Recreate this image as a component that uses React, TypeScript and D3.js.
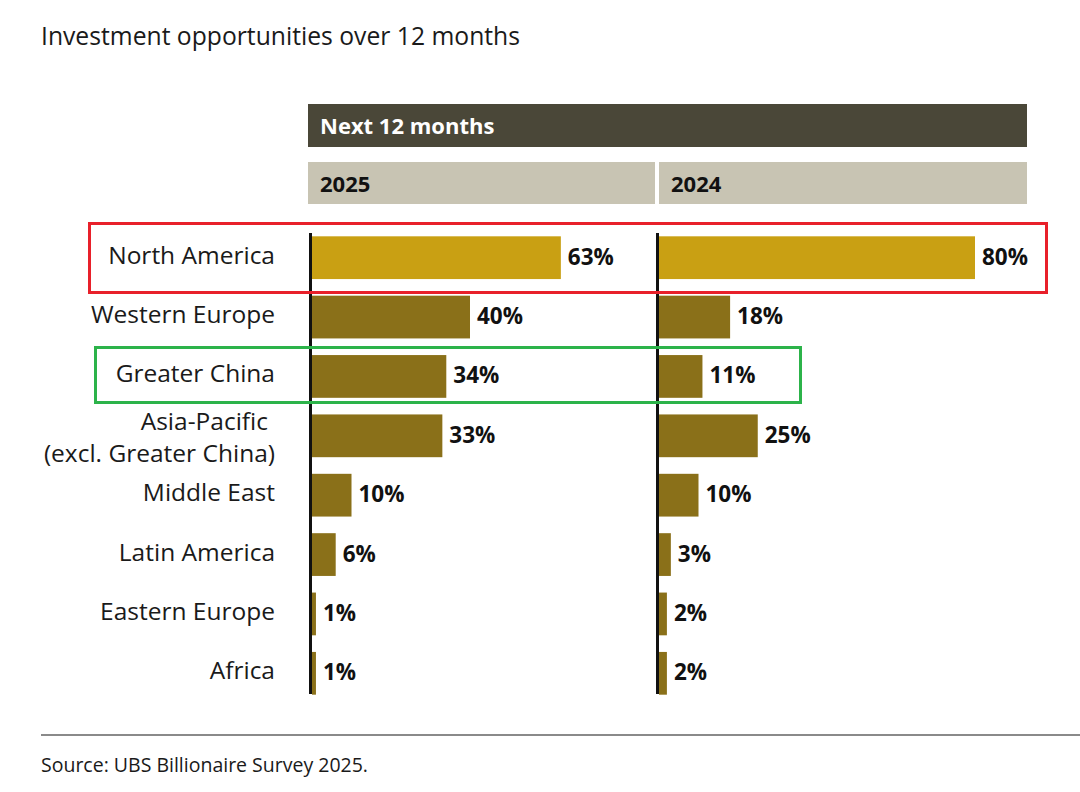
import * as d3 from 'd3';

const regions = [
  'North America',
  'Western Europe',
  'Greater China',
  'Asia-Pacific (excl. Greater China)',
  'Middle East',
  'Latin America',
  'Eastern Europe',
  'Africa',
];
const values2025 = [63, 40, 34, 33, 10, 6, 1, 1];
const values2024 = [80, 18, 11, 25, 10, 3, 2, 2];
const panelYears = ['2025', '2024'];

const W = 1080;
const H = 792;
const FONT = '"Open Sans", "Noto Sans", sans-serif';
const NARROW = '"Liberation Sans Narrow", "Open Sans", sans-serif';
const GOLD = '#c9a013';
const OLIVE = '#8a7019';

export default function App() {
  const y = d3
    .scaleBand<string>()
    .domain(regions)
    .range([228, 703])
    .paddingInner(0.28)
    .paddingOuter(0.14);
  const x = d3.scaleLinear().domain([0, 100]).range([0, 395]);

  const panels = [
    { year: panelYears[0], x0: 312, values: values2025, box: [308, 655] },
    { year: panelYears[1], x0: 659, values: values2024, box: [659, 1027] },
  ];

  return (
    <svg width={W} height={H} style={{ position: 'absolute', left: 0, top: 0, background: '#fff' }}>
      <rect width={W} height={H} fill="#fff" />
      <text x={41} y={45} fontFamily={FONT} fontSize={24.7} fill="#1a1a1a">
        Investment opportunities over 12 months
      </text>

      {/* header band */}
      <rect x={308} y={104} width={719} height={43} fill="#4a4738" />
      <text x={320} y={134} fontFamily={NARROW} fontWeight="bold" fontSize={22} fill="#fff">
        Next 12 months
      </text>
      {panels.map((p) => (
        <g key={p.year}>
          <rect x={p.box[0]} y={162} width={p.box[1] - p.box[0]} height={42} fill="#c8c4b3" />
          <text x={p.box[0] + 12} y={192} fontFamily={NARROW} fontWeight="bold" fontSize={22} fill="#111">
            {p.year}
          </text>
        </g>
      ))}

      {/* row labels */}
      {regions.map((r) => {
        const cy = (y(r) ?? 0) + y.bandwidth() / 2;
        if (r.startsWith('Asia-Pacific')) {
          return (
            <g key={r} fontFamily={FONT} fontSize={24.5} fill="#1a1a1a" textAnchor="end">
              <text x={268} y={cy - 6}>Asia-Pacific</text>
              <text x={275} y={cy + 26}>(excl. Greater China)</text>
            </g>
          );
        }
        return (
          <text key={r} x={275} y={cy + 6} fontFamily={FONT} fontSize={24.5} fill="#1a1a1a" textAnchor="end">
            {r}
          </text>
        );
      })}

      {/* bars */}
      {panels.map((p) => (
        <g key={p.year} transform={`translate(${p.x0},0)`}>
          {regions.map((r, i) => {
            const v = p.values[i];
            const top = y(r) ?? 0;
            return (
              <g key={r}>
                <rect x={0} y={top} width={x(v)} height={y.bandwidth()} fill={i === 0 ? GOLD : OLIVE} />
                <text
                  x={x(v) + 7}
                  y={top + y.bandwidth() / 2 + 7}
                  fontFamily={FONT}
                  fontWeight="bold"
                  fontSize={22.5}
                  fill="#111"
                >
                  {v}%
                </text>
              </g>
            );
          })}
          <line x1={-1.5} x2={-1.5} y1={233} y2={694} stroke="#111" strokeWidth={3} />
        </g>
      ))}

      {/* highlight frames */}
      <rect x={89.5} y={223.5} width={957} height={69} fill="none" stroke="#e8202a" strokeWidth={3} />
      <rect x={95.5} y={347.5} width={705} height={55} fill="none" stroke="#2cb34a" strokeWidth={3} />

      {/* footer */}
      <line x1={41} x2={W} y1={735} y2={735} stroke="#8a8a8a" strokeWidth={2} />
      <text x={41} y={772} fontFamily={NARROW} fontSize={19.5} fill="#1a1a1a">
        Source: UBS Billionaire Survey 2025.
      </text>
    </svg>
  );
}
